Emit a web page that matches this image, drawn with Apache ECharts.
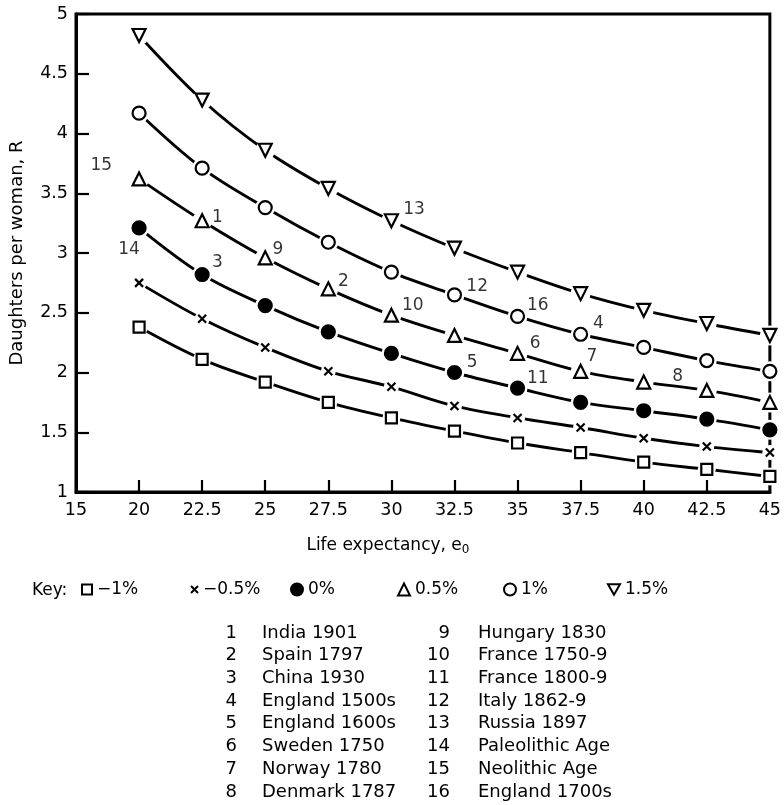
<!DOCTYPE html>
<html>
<head>
<meta charset="utf-8">
<script src="https://cdn.jsdelivr.net/npm/echarts@6/dist/echarts.min.js"></script>
<style>
html, body { margin: 0; padding: 0; background: #fff; }
#main { width: 784px; height: 805px; }
</style>
</head>
<body>
<div id="main"></div>
<script>
// life expectancy values where the curves are computed
const lifeExpectancy = [20, 22.5, 25, 27.5, 30, 32.5, 35, 37.5, 40, 42.5, 45];

// daughters per woman, one list per growth rate
const growthMinus1 = [2.38, 2.11, 1.92, 1.75, 1.62, 1.51, 1.41, 1.33, 1.25, 1.19, 1.13];
const growthMinus05 = [2.75, 2.45, 2.21, 2.01, 1.88, 1.72, 1.62, 1.54, 1.45, 1.38, 1.33];
const growthZero = [3.21, 2.82, 2.56, 2.34, 2.16, 2.00, 1.87, 1.75, 1.68, 1.61, 1.52];
const growthPlus05 = [3.62, 3.27, 2.96, 2.70, 2.48, 2.31, 2.16, 2.01, 1.92, 1.85, 1.75];
const growthPlus1 = [4.17, 3.71, 3.38, 3.09, 2.84, 2.65, 2.47, 2.32, 2.21, 2.10, 2.01];
const growthPlus15 = [4.82, 4.28, 3.86, 3.54, 3.27, 3.04, 2.84, 2.66, 2.52, 2.41, 2.31];

const rateNames = ['\u22121%', '\u22120.5%', '0%', '0.5%', '1%', '1.5%'];

// numbered populations, placed in (e0, R)
const noteText = ['15', '14', '1', '3', '9', '2', '13', '10', '12', '16', '4', '6', '7', '5', '11', '8'];
const noteE0 = [18.5, 19.6, 23.1, 23.1, 25.5, 28.1, 30.9, 30.85, 33.4, 35.8, 38.2, 35.7, 37.95, 33.2, 35.8, 41.35];
const noteR = [3.73, 3.03, 3.30, 2.92, 3.03, 2.76, 3.36, 2.56, 2.72, 2.56, 2.41, 2.24, 2.13, 2.08, 1.95, 1.97];

const populations = [
    'India 1901', 'Spain 1797', 'China 1930', 'England 1500s',
    'England 1600s', 'Sweden 1750', 'Norway 1780', 'Denmark 1787',
    'Hungary 1830', 'France 1750-9', 'France 1800-9', 'Italy 1862-9',
    'Russia 1897', 'Paleolithic Age', 'Neolithic Age', 'England 1700s'
];

const FONT = '"DejaVu Sans", "Liberation Sans", sans-serif';

const curves = [growthMinus1, growthMinus05, growthZero, growthPlus05, growthPlus1, growthPlus15];
const markers = [
    { symbol: 'rect', size: 11, filled: false },
    { symbol: 'path://M0,0L10,10M10,0L0,10', size: 8, filled: false },
    { symbol: 'circle', size: 13, filled: true },
    { symbol: 'triangle', size: 13, filled: false },
    { symbol: 'circle', size: 13, filled: false },
    { symbol: 'path://M0,0L10,0L5,8.66Z', size: 13, filled: false }
];
const keyLeft = [81, 190, 290, 397, 503, 607];

let series = [];
curves.forEach(function (vals, k) {
    let pts = lifeExpectancy.map(function (x, i) { return [x, vals[i]]; });
    let m = markers[k];
    series.push({
        name: 'curve' + k,
        type: 'line',
        data: pts,
        smooth: 0.35,
        showSymbol: false,
        silent: true,
        lineStyle: { color: '#000', width: 2.9 },
        z: 2
    });
    // white ring so the curve stops short of each marker
    series.push({
        name: 'halo' + k,
        type: 'scatter',
        data: pts,
        symbol: 'circle',
        symbolSize: m.size + 7,
        silent: true,
        itemStyle: { color: '#fff', opacity: 1 },
        z: 3
    });
    series.push({
        name: rateNames[k],
        type: 'scatter',
        data: pts,
        symbol: m.symbol,
        symbolSize: m.size,
        itemStyle: {
            color: m.filled ? '#000' : '#fff',
            borderColor: '#000',
            borderWidth: 2.2,
            opacity: 1
        },
        z: 4
    });
});

series.push({
    name: 'notes',
    type: 'scatter',
    data: noteText.map(function (t, i) { return [noteE0[i], noteR[i], t]; }),
    symbolSize: 1,
    silent: true,
    itemStyle: { color: 'rgba(0,0,0,0)' },
    label: {
        show: true,
        position: 'inside',
        formatter: function (p) { return p.value[2]; },
        color: '#000',
        fontSize: 17,
        fontFamily: FONT
    },
    z: 5
});

let legends = rateNames.map(function (n, k) {
    return {
        left: keyLeft[k],
        top: 581,
        padding: 0,
        data: [n],
        selectedMode: false,
        itemWidth: markers[k].size - 1,
        itemHeight: markers[k].size - 1,
        textStyle: { color: '#000', fontSize: 17, fontFamily: FONT }
    };
});

let graphic = [{
    type: 'text',
    x: 32, y: 591,
    style: { text: 'Key:', font: '17px ' + FONT, fill: '#000', align: 'left', verticalAlign: 'middle' }
}];
populations.forEach(function (name, i) {
    let col = i < 8 ? 0 : 1;
    let row = i % 8;
    let y = 633 + row * 22.7;
    graphic.push({
        type: 'text',
        x: col ? 450 : 237, y: y,
        style: { text: String(i + 1), font: '18px ' + FONT, fill: '#000', align: 'right', verticalAlign: 'middle' }
    });
    graphic.push({
        type: 'text',
        x: col ? 478 : 262, y: y,
        style: { text: name, font: '18px ' + FONT, fill: '#000', align: 'left', verticalAlign: 'middle' }
    });
});

let option = {
    backgroundColor: '#fff',
    animation: false,
    grid: {
        left: 75, right: 12, top: 14, bottom: 313,
        show: true,
        borderColor: '#000',
        borderWidth: 3
    },
    xAxis: {
        type: 'value',
        min: 17.5,
        max: 45,
        interval: 2.5,
        name: 'Life expectancy, e{sub|0}',
        nameLocation: 'middle',
        nameGap: 43,
        nameTextStyle: {
            color: '#000',
            fontSize: 17,
            fontFamily: FONT,
            padding: [0, 70, 0, 0],
            rich: {
                sub: { fontSize: 12, fontFamily: FONT, color: '#000', padding: [9, 0, 0, 0] }
            }
        },
        axisLine: { lineStyle: { color: '#000', width: 3 } },
        axisTick: { show: true, inside: true, length: 12, lineStyle: { color: '#000', width: 2.2 } },
        axisLabel: {
            color: '#000',
            fontSize: 17.5,
            fontFamily: FONT,
            margin: 9,
            // the left edge is labelled 15 in the original
            formatter: function (v) { return v === 17.5 ? '15' : String(v); }
        },
        splitLine: { show: false }
    },
    yAxis: {
        type: 'value',
        min: 1,
        max: 5,
        interval: 0.5,
        name: 'Daughters per woman, R',
        nameLocation: 'middle',
        nameGap: 50,
        nameTextStyle: { color: '#000', fontSize: 18, fontFamily: FONT },
        axisLine: { show: true, lineStyle: { color: '#000', width: 3 } },
        axisTick: { show: true, inside: true, length: 13, lineStyle: { color: '#000', width: 2.2 } },
        axisLabel: { color: '#000', fontSize: 17.5, fontFamily: FONT, margin: 8 },
        splitLine: { show: false }
    },
    legend: legends,
    graphic: graphic,
    series: series
};

let myChart = echarts.init(document.getElementById('main'));
myChart.setOption(option);
</script>
</body>
</html>
